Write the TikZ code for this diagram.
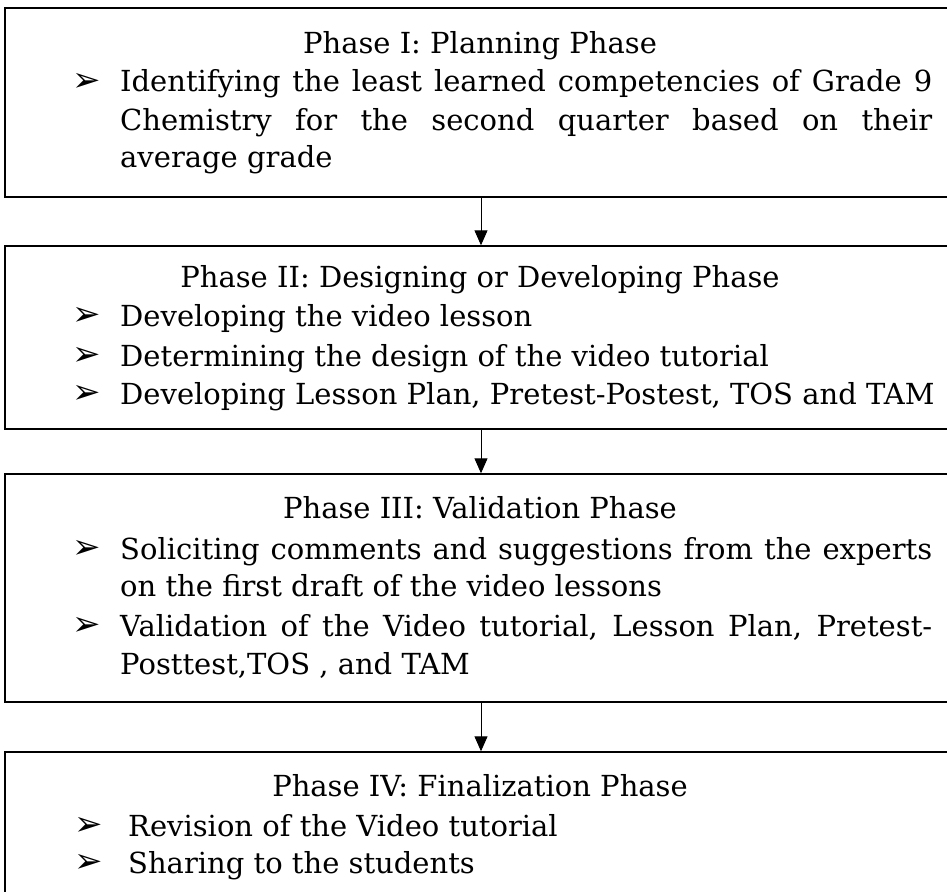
\documentclass[tikz,border=0pt]{standalone}
\usepackage{fontspec}
\setmainfont{DejaVu Serif}
\newfontfamily\bulfont{DejaVu Sans}
\usetikzlibrary{arrows.meta}

\tikzset{
  phasebox/.style={draw, line width=1.4pt, minimum width=952pt, inner sep=0pt},
  title/.style={anchor=base, inner sep=0pt},
  txt/.style={anchor=base west, inner sep=0pt},
  bul/.style={inner sep=0pt, font=\bulfont\fontsize{34}{34}\selectfont},
  flow/.style={line width=1pt, -{Triangle[length=15pt,width=13pt]}}
}

\begin{document}
\begin{tikzpicture}[x=1pt,y=-1pt,font=\fontsize{29}{33}\selectfont]
        \useasboundingbox (0,0) rectangle (947,891);
        \clip (0,0) rectangle (947,891);
        % the four phase boxes
        \node[phasebox, minimum height=189pt] (p1) at (481,102.5) {};
        \node[phasebox, minimum height=183pt] (p2) at (481,337.5) {};
        \node[phasebox, minimum height=228pt] (p3) at (481,588) {};
        \node[phasebox, minimum height=170pt] (p4) at (481,837) {};
        % titles
        \node[title] (t1) at (480,53) {Phase I: Planning Phase};
        \node[title] (t2) at (480,287) {Phase II: Designing or Developing Phase};
        \node[title] (t3) at (480,518) {Phase III: Validation Phase};
        \node[title] (t4) at (480,796) {Phase IV: Finalization Phase};
        % phase I
        \node[txt] (a1) at (120,92) {\makebox[812pt][s]{Identifying the least learned competencies of Grade 9}};
        \node[txt] (a2) at (120,130) {\makebox[812pt][s]{Chemistry for the second quarter based on their}};
        \node[txt] (a3) at (120,167) {average grade};
        % phase II
        \node[txt] (b1) at (120,326) {Developing the video lesson};
        \node[txt] (b2) at (120,366) {Determining the design of the video tutorial};
        \node[txt] (b3) at (120,404) {Developing Lesson Plan, Pretest-Postest, TOS and TAM};
        % phase III
        \node[txt] (c1) at (120,559) {\makebox[812pt][s]{Soliciting comments and suggestions from the experts}};
        \node[txt] (c2) at (120,596) {on the first draft of the video lessons};
        \node[txt] (c3) at (120,636) {\makebox[812pt][s]{Validation of the Video tutorial, Lesson Plan, Pretest-}};
        \node[txt] (c4) at (120,674) {Posttest,TOS , and TAM};
        % phase IV
        \node[txt] (d1) at (128,836) {Revision of the Video tutorial};
        \node[txt] (d2) at (128,873) {Sharing to the students};
        % bullets
        \foreach \n/\y in {a1/82,b1/316,b2/356,b3/394,c1/549,c3/626}
          \node[bul] (m\n) at (87,\y) {➢};
        \foreach \n/\y in {d1/826,d2/863}
          \node[bul] (m\n) at (89,\y) {➢};
        % arrows
        \draw[flow] (p1.south) -- (p2.north);
        \draw[flow] (p2.south) -- (p3.north);
        \draw[flow] (p3.south) -- (p4.north);
\end{tikzpicture}
\end{document}
